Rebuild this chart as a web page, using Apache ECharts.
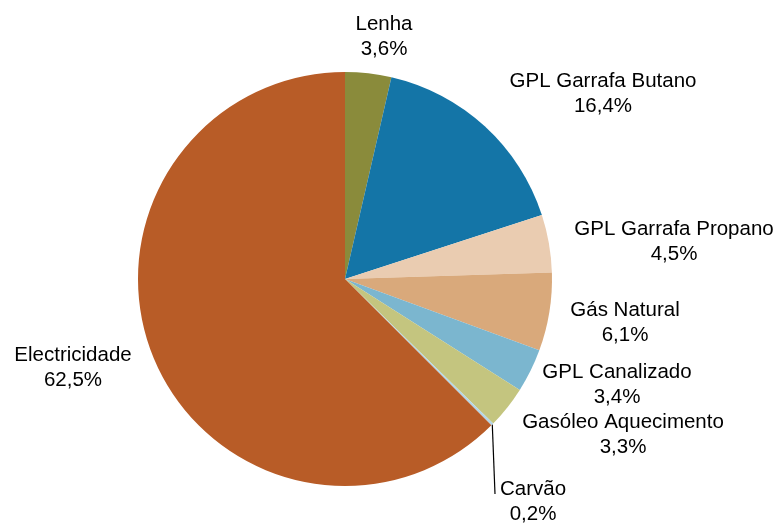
<!DOCTYPE html>
<html><head><meta charset="utf-8">
<script src="https://cdn.jsdelivr.net/npm/echarts@6/dist/echarts.min.js"></script>
<style>html,body{margin:0;padding:0;background:#fff}#c{width:781px;height:523px}</style>
</head><body><div id="c"></div>
<script>
const categories = ["Lenha","GPL Garrafa Butano","GPL Garrafa Propano","Gás Natural","GPL Canalizado","Gasóleo Aquecimento","Carvão","Electricidade"];
const values = [3.6,16.4,4.5,6.1,3.4,3.3,0.2,62.5];
const colors = ["#8A8B3B","#1475A7","#EACCB1","#D9A97B","#7BB6CF","#C4C57F","#B5D5E6","#B85C27"];
// label anchor centres (text block centres)
const labelPos = [[384,37],[603,94],[674,242],[625,323],[617,385],[623,435],[533,502],[73,368]];

const chart = echarts.init(document.getElementById('c'));
chart.setOption({
  animation:false,
  series:[{
    type:'pie',
    center:[345,279],
    radius:207,
    startAngle:90,
    clockwise:true,
    avoidLabelOverlap:false,
    itemStyle:{borderWidth:0},
    label:{
      show:true,
      position:'outside',
      formatter:p=>p.name+'\n'+p.value.toFixed(1).replace('.',',')+'%',
      fontFamily:'Liberation Sans, Arial, sans-serif',
      fontSize:20.5,
      lineHeight:25,
      color:'#000',
      align:'center'
    },
    labelLine:{show:false},
    labelLayout:function(params){
      const i=params.dataIndex;
      const pos=labelPos[i];
      const res={x:pos[0],y:pos[1],align:'center',verticalAlign:'middle'};
      if(categories[i]==='Carvão' && params.labelLinePoints){
        const p0=params.labelLinePoints[0];
        res.labelLinePoints=[p0,[495,494],[495,494]];
      }
      return res;
    },
    data:categories.map((n,i)=>({
      name:n,value:values[i],itemStyle:{color:colors[i]},
      labelLine: n==='Carvão'?{show:true,length:10,length2:0,lineStyle:{color:'#000',width:1.2}}:{show:false}
    }))
  }]
});
</script></body></html>
